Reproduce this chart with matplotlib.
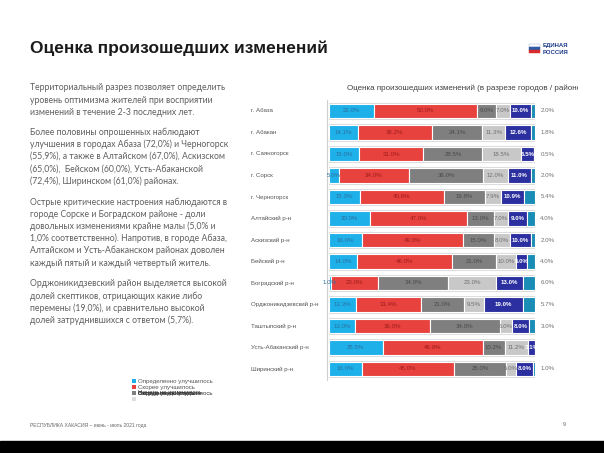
import matplotlib
matplotlib.use("Agg")
import matplotlib.pyplot as plt
import numpy as np

# ---------------- data ----------------
categories = ["г. Абаза", "г. Абакан", "г. Саяногорск", "г. Сорск", "г. Черногорск",
              "Алтайский р-н", "Аскизский р-н", "Бейский р-н", "Боградский р-н",
              "Орджоникидзевский р-н", "Таштыпский р-н", "Усть-Абаканский р-н", "Ширинский р-н"]
series_names = ["Определенно улучшилось", "Скорее улучшилось", "Ничего не изменилось",
                "Скорее ухудшилось", "Определенно ухудшилось", "Затрудняюсь ответить"]
definitely_better = [22.0, 14.1, 15.0, 5.0, 15.3, 20.0, 16.0, 14.0, 1.0, 13.3, 13.0, 25.5, 16.0]
rather_better     = [50.0, 36.2, 31.0, 34.0, 40.6, 47.0, 49.0, 46.0, 23.0, 31.4, 36.0, 46.9, 45.0]
no_change         = [9.0, 24.1, 28.5, 36.0, 19.8, 13.0, 15.0, 21.0, 34.0, 21.0, 34.0, 10.2, 25.0]
rather_worse      = [7.0, 11.3, 18.5, 12.0, 7.9, 7.0, 8.0, 10.0, 23.0, 9.5, 6.0, 11.2, 5.0]
definitely_worse  = [10.0, 12.6, 6.5, 11.0, 10.9, 9.0, 10.0, 5.0, 13.0, 19.0, 8.0, 3.1, 8.0]
hard_to_say       = [2.0, 1.8, 0.5, 2.0, 5.4, 4.0, 2.0, 4.0, 6.0, 5.7, 3.0, 0.0, 1.0]

title = "Оценка произошедших изменений"
chart_title = "Оценка произошедших изменений (в разрезе городов / районов)"
paragraphs = [
    ["Территориальный разрез позволяет определить",
     "уровень оптимизма жителей при восприятии",
     "изменений в течение 2-3 последних лет."],
    ["Более половины опрошенных наблюдают",
     "улучшения в городах Абаза (72,0%) и Черногорск",
     "(55,9%), а также в Алтайском (67,0%), Аскизском",
     "(65,0%),  Бейском (60,0%), Усть-Абаканской",
     "(72,4%), Ширинском (61,0%) районах."],
    ["Острые критические настроения наблюдаются в",
     "городе Сорске и Боградском районе - доли",
     "довольных изменениями крайне малы (5,0% и",
     "1,0% соответственно). Напротив, в городе Абаза,",
     "Алтайском и Усть-Абаканском районах доволен",
     "каждый пятый и каждый четвертый житель."],
    ["Орджоникидзевский район выделяется высокой",
     "долей скептиков, отрицающих какие либо",
     "перемены (19,0%), и сравнительно высокой",
     "долей затруднившихся с ответом (5,7%)."],
]
footer = "РЕСПУБЛИКА ХАКАСИЯ – июнь - июль 2021 года"
page_no = "9"

colors = ["#1EB1E9", "#E8423E", "#7F7F7F", "#C8C8C8", "#2B2F9F", "#1A8DB6"]
label_colors = ["#2C6E9E", "#9E1C1C", "#4A4A4A", "#707070", "white", None]

W, H = 604, 453
fig = plt.figure(figsize=(W / 100, H / 100), dpi=100)
fig.patch.set_facecolor("white")

# base slide axes in pixel coordinates
base = fig.add_axes([0, 0, 1, 1])
base.set_xlim(0, W)
base.set_ylim(H, 0)
base.axis("off")

# black band at bottom
base.add_patch(plt.Rectangle((0, 441), W, 12, color="black", zorder=0))

# slide title
base.text(30, 48, title, fontsize=12.5, fontweight="bold", family="Liberation Sans",
          color="#1a1a1a", va="center", ha="left")

# logo
flag_y = 44
for i, c in enumerate(["#ffffff", "#2f5aa8", "#d62b2b"]):
    base.add_patch(plt.Rectangle((529, flag_y + i * 3), 11, 3, facecolor=c,
                                 edgecolor="#9aaad0" if i == 0 else c, lw=0.3))
base.text(543, 46, "ЕДИНАЯ", fontsize=4.3, fontweight="bold", color="#1f3c88",
          family="Liberation Sans", va="center", ha="left")
base.text(543, 53, "РОССИЯ", fontsize=4.3, fontweight="bold", color="#1f3c88",
          family="Liberation Sans", va="center", ha="left")

# left paragraphs
para_starts = [88, 132, 202, 284]
line_h = 12.2
for start, lines in zip(para_starts, paragraphs):
    for j, ln in enumerate(lines):
        base.text(30, start + j * line_h, ln, fontsize=6.2, family="Lato",
                  color="#5f5f5f", va="center", ha="left")

# footer
base.text(30, 425, footer, fontsize=3.6, color="#666666", family="Liberation Sans",
          va="center", ha="left")
base.text(563, 425, page_no, fontsize=3.8, color="#666666", family="Liberation Sans",
          va="center", ha="left")

# chart title (clipped at right edge)
tax = fig.add_axes([230 / W, 1 - 95 / H, (578 - 230) / W, 14 / H])
tax.set_xlim(230, 578)
tax.set_ylim(95, 81)
tax.axis("off")
tax.text(347, 88, chart_title, fontsize=5.75, color="#404040", family="Liberation Sans",
         va="center", ha="left", clip_on=True)

# ---------------- bar chart ----------------
x0, x1 = 328.5, 535.0
row0, row_step = 111.0, 21.5
n = len(categories)
top_px = row0 - row_step / 2
bot_px = row0 + (n - 0.5) * row_step
ax = fig.add_axes([x0 / W, 1 - bot_px / H, (x1 - x0) / W, (bot_px - top_px) / H])
ax.set_xlim(0, 100)
ax.set_ylim(n - 0.5, -0.5)
ax.patch.set_alpha(0)
for s in ["top", "right", "bottom"]:
    ax.spines[s].set_visible(False)
ax.spines["left"].set_color("#d0d0d0")
ax.spines["left"].set_linewidth(0.8)
ax.spines["left"].set_position(("data", -0.8))
ax.set_xticks([])
ax.set_yticks([])

data = np.array([definitely_better, rather_better, no_change, rather_worse,
                 definitely_worse, hard_to_say])
totals = data.sum(axis=0)
shares = data / totals * 100
ypos = np.arange(n)

# outline box behind each bar
ax.barh(ypos, 101.6, left=-0.8, height=0.78, color="none", edgecolor="#dcdcdc",
        linewidth=0.8, zorder=1)

left = np.zeros(n)
for k in range(6):
    ax.barh(ypos, shares[k], left=left, height=0.66, color=colors[k],
            edgecolor="white", linewidth=0.8, zorder=2)
    for i in range(n):
        v = data[k, i]
        if k < 5:
            ax.text(left[i] + shares[k, i] / 2, ypos[i], f"{v:.1f}%", fontsize=4.4,
                    color=label_colors[k], ha="center", va="center",
                    family="Liberation Sans",
                    fontweight="bold" if k == 4 else "normal", zorder=3)
        elif v > 0:
            ax.text(102.6, ypos[i], f"{v:.1f}%", fontsize=4.4, color="#707070",
                    ha="left", va="center", family="Liberation Sans", zorder=3,
                    clip_on=False)
    left += shares[k]

# category labels
for i, c in enumerate(categories):
    base.text(251, row0 + i * row_step, c, fontsize=4.4, color="#555555",
              family="Liberation Sans", ha="left", va="center")

# legend (as in the reference, later entries overlap)
leg_y = [381, 387, 393, 399]
for j in range(4):
    base.add_patch(plt.Rectangle((132, leg_y[j] - 2), 4, 4,
                                 color=colors[j] if j < 3 else "#dddddd", lw=0))
base.text(138, leg_y[0], series_names[0], fontsize=4.4, color="#555555",
          family="Liberation Sans", va="center", ha="left")
base.text(138, leg_y[1], series_names[1], fontsize=4.4, color="#555555",
          family="Liberation Sans", va="center", ha="left")
for nm in series_names[2:]:
    base.text(138, leg_y[2], nm, fontsize=4.4, color="#333333",
              family="Liberation Sans", va="center", ha="left")

fig.savefig("out.png", dpi=100, facecolor="white")
